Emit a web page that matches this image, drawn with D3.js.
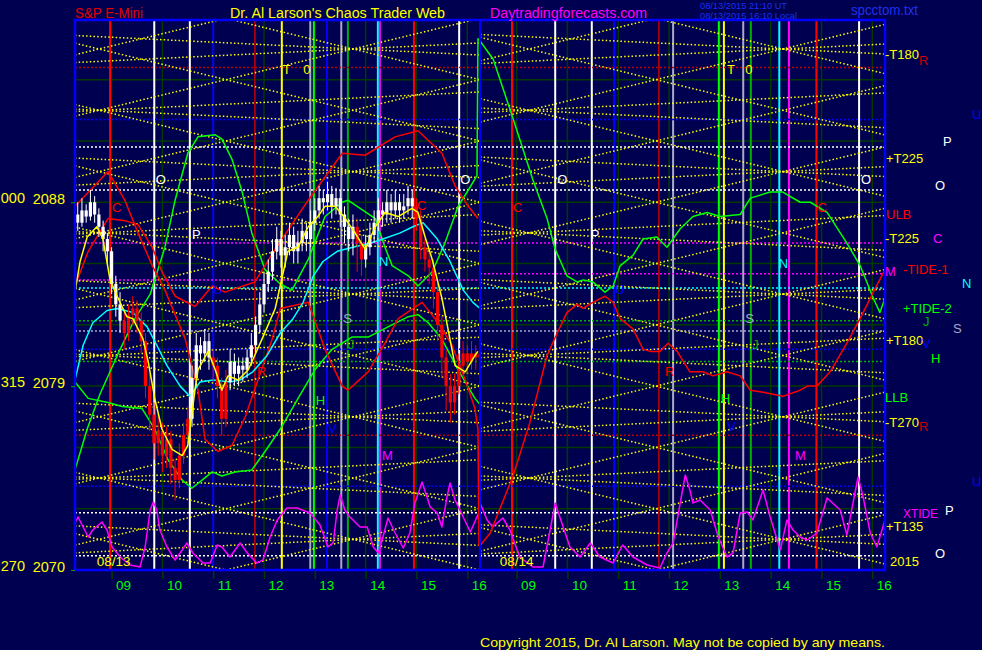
<!DOCTYPE html>
<html><head><meta charset="utf-8">
<script src="https://cdn.jsdelivr.net/npm/d3@7"></script>
<style>
html,body{margin:0;padding:0;background:#000050;}
svg{display:block;font-family:"Liberation Sans",Arial,sans-serif;}
</style></head><body>
<svg id="c" width="982" height="650"></svg>
<script>
// ---------------- DATA ----------------
const HOURS = [9,10,11,12,13,14,15,16];
const PRICE_TICKS = [2070,2079,2088];
const PRICE_CODES = ["270","315","000"];
const GRID_PRICES = [2070,2073,2076,2079,2082,2085,2088,2091,2094,2097];
const DAYS = ["08/13","08/14"];

// horizontal dotted levels: price, kind, panel (0 = both, 1 = left, 2 = right)
const HLINE_PRICES = [2094.6,2092.05,2090.7,2088.6,2086.0,2084.2,2084.5,2083.8,2082.2,2081.7,2080.8,2080.2,2076.6,2074.1,2072.8,2070.7];
const HLINE_KINDS  = ["darkred","blue","white","white","magenta","magenta","magenta","cyan","green","gray","blue","green","darkred","blue","white","white"];
const HLINE_PANEL  = [0,0,0,0,0,1,2,0,0,0,0,0,0,0,0,0];

// vertical time lines per day: [hour, kind]
const VLINES = [
  [[8.97,"red"],[9.84,"white"],[10.54,"white"],[11.0,"blue"],[11.82,"darkred"],[12.35,"yellow"],[12.91,"gray"],[12.98,"lime"],[13.24,"blue"],[13.52,"gray"],[13.65,"green"],[14.24,"cyan"],[14.28,"magenta"],[14.95,"red"],[15.84,"white"]],
  [[8.91,"red"],[9.76,"white"],[10.48,"white"],[10.92,"blue"],[11.80,"darkred"],[12.08,"gray"],[12.98,"lime"],[13.08,"yellow"],[13.46,"gray"],[13.61,"green"],[14.17,"cyan"],[14.36,"magenta"],[14.90,"red"],[15.74,"white"]]
];

// time/price line lattice
const TLINE_LEVELS = [2067,2070,2073,2076,2079,2082,2085,2088,2091,2094,2097,2100];
const TLINE_PIVOT = [11.25, 11.74];
const TLINE_SLOPE = 0.6;
const SHALLOW_LEVELS = [2068.5,2071.5,2074.5,2077.5,2080.5,2083.5,2086.5,2089.5,2092.5,2095.5,2098.5];
const SHALLOW_PIVOTS = [[8.77,13.79],[9.17,14.22]];
const SHALLOW_SLOPE = 0.12;

// 5-minute bars of 08/13 starting 08:20
const BAR_START = 8.3333;
const BAR_OPEN0 = 2087.4;
const CLOSE = [2087.0,2087.6,2087.3,2088.0,2087.4,2086.8,2086.2,2085.6,2084.0,2083.0,
2082.2,2081.6,2082.5,2082.8,2082.2,2081.2,2079.0,2077.6,2076.2,2076.8,
2075.6,2076.4,2075.0,2074.4,2075.6,2076.6,2077.4,2079.4,2081.0,2080.6,
2081.2,2080.4,2080.0,2079.0,2077.4,2079.2,2080.2,2079.6,2080.0,2079.8,
2080.4,2081.0,2082.0,2083.0,2084.0,2084.6,2085.6,2086.2,2085.4,2085.8,
2086.4,2085.6,2086.0,2086.6,2086.2,2087.0,2087.6,2088.2,2088.0,2088.4,
2087.8,2088.2,2087.4,2086.8,2086.2,2086.8,2086.0,2085.2,2085.8,2086.4,
2087.0,2087.6,2087.4,2088.0,2087.6,2088.0,2087.6,2087.8,2088.2,2087.8,
2087.2,2085.8,2085.2,2084.8,2083.6,2082.0,2080.4,2079.0,2078.2,2079.0,
2080.0,2080.6,2080.2,2080.6,2080.4,2080.6];
const HIGH = [2088.0,2088.2,2087.9,2088.6,2088.3,2087.7,2087.1,2086.5,2085.8,2084.4,
2083.6,2082.6,2083.0,2083.4,2083.2,2082.6,2081.6,2079.6,2078.2,2077.6,
2077.2,2077.0,2076.8,2075.4,2076.2,2077.2,2078.0,2080.0,2081.6,2081.4,
2081.8,2081.6,2080.8,2080.4,2079.4,2079.8,2080.8,2080.6,2080.4,2080.4,
2080.8,2081.6,2082.4,2083.6,2084.6,2085.2,2086.2,2086.8,2086.6,2086.4,
2087.0,2086.8,2086.6,2087.2,2087.0,2087.6,2088.2,2088.8,2088.6,2089.0,
2088.8,2088.7,2088.6,2087.8,2087.2,2087.4,2087.2,2086.4,2086.4,2087.0,
2087.6,2088.2,2088.0,2088.6,2088.4,2088.6,2088.4,2088.4,2088.8,2088.6,
2088.2,2087.6,2086.2,2085.6,2085.2,2084.0,2082.4,2080.8,2079.6,2079.6,
2080.6,2081.2,2081.0,2081.2,2081.0,2081.2];
const LOW = [2086.6,2086.8,2087.0,2087.1,2087.0,2086.3,2085.6,2085.0,2083.5,2082.4,
2081.6,2080.8,2081.2,2082.0,2081.6,2080.6,2078.4,2076.8,2075.4,2075.6,
2074.8,2075.0,2074.2,2073.4,2074.0,2075.2,2076.2,2077.0,2079.0,2079.8,
2080.2,2079.8,2079.2,2078.4,2076.6,2077.0,2078.8,2079.0,2079.0,2079.2,
2079.4,2080.0,2080.6,2081.6,2082.6,2083.6,2084.2,2085.2,2084.8,2084.8,
2085.4,2085.0,2085.0,2085.6,2085.6,2085.8,2086.6,2087.2,2087.4,2087.6,
2087.2,2087.4,2086.8,2086.0,2085.6,2085.4,2084.6,2084.4,2084.8,2085.4,
2086.0,2086.6,2086.8,2087.0,2087.0,2087.2,2087.0,2087.2,2087.4,2087.2,
2086.6,2085.2,2084.6,2084.0,2082.8,2081.2,2079.4,2077.8,2077.2,2077.6,
2078.6,2079.8,2079.6,2079.8,2079.8,2080.0];
const RED_BAR_RANGES = [[11,26],[32,35],[66,67],[80,95]];

// curves [hour, price]
const RED_A_13 = [[8.28,2087.8],[8.93,2089.5],[9.26,2088.1],[9.52,2086.5],[9.80,2084.9],[10.05,2083.7],[10.45,2081.3],[10.70,2078.8],[10.84,2076.4],[11.09,2075.8],[11.37,2076.1],[11.63,2077.5],[11.88,2079.3],[12.16,2081.3],[12.32,2082.8],[12.87,2083.1],[13.20,2080.8],[13.54,2079.0],[13.65,2078.8],[14.05,2079.7],[14.38,2081.1],[14.64,2082.3],[15.11,2083.1],[15.43,2082.1],[15.70,2081.0],[15.96,2079.3],[16.15,2077.9],[16.21,2076.9],[16.23,2071.2],[16.25,2071.2]];
const RED_A_14 = [[8.28,2071.2],[8.48,2071.8],[8.93,2074.6],[9.26,2077.2],[9.60,2080.5],[9.80,2081.6],[9.99,2082.6],[10.19,2083.0],[10.31,2082.8],[10.50,2083.1],[10.74,2083.4],[10.90,2083.1],[11.04,2082.3],[11.29,2081.8],[11.49,2080.8],[11.63,2080.7],[11.82,2080.7],[11.98,2081.1],[12.16,2080.7],[12.41,2079.7],[12.67,2079.7],[12.87,2079.5],[13.14,2079.7],[13.40,2079.5],[13.60,2078.8],[13.85,2078.7],[14.24,2078.5],[14.58,2078.8],[14.72,2079.0],[14.91,2079.0],[15.17,2079.7],[15.50,2081.1],[15.76,2082.3],[16.02,2083.6],[16.25,2084.7]];
const RED_B_13 = [[8.28,2083.9],[8.54,2085.6],[8.93,2087.2],[9.26,2087.1],[9.52,2086.9],[9.80,2085.8],[9.99,2084.6],[10.25,2083.4],[10.64,2082.9],[10.98,2083.9],[11.23,2083.6],[11.82,2084.1],[12.22,2085.7],[12.87,2088.1],[13.54,2090.4],[13.99,2090.3],[14.58,2091.2],[15.03,2091.5],[15.50,2090.4],[15.76,2088.8],[16.02,2087.8],[16.21,2087.2]];
const GREEN_A_13 = [[8.28,2074.9],[8.52,2076.9],[8.77,2078.6],[9.13,2080.6],[9.46,2082.3],[9.76,2083.5],[10.05,2085.8],[10.25,2088.1],[10.50,2090.4],[10.70,2091.2],[11.04,2091.3],[11.17,2091.1],[11.37,2090.1],[11.57,2088.5],[11.76,2086.5],[12.02,2084.7],[12.32,2084.0],[12.55,2083.7],[12.87,2085.2],[13.20,2087.3],[13.54,2088.0],[13.65,2088.1],[14.19,2087.2],[14.38,2085.8],[14.52,2084.9],[14.84,2084.4],[15.03,2083.9],[15.31,2084.6],[15.56,2086.0],[15.82,2087.8],[16.02,2088.6],[16.19,2089.3],[16.21,2096.0],[16.25,2095.9]];
const GREEN_A_14 = [[8.28,2095.9],[8.54,2095.0],[8.93,2092.1],[9.32,2089.1],[9.60,2087.2],[9.76,2085.7],[9.99,2084.4],[10.19,2084.1],[10.31,2084.2],[10.50,2084.1],[10.74,2083.6],[10.90,2083.9],[11.04,2084.9],[11.29,2085.4],[11.49,2086.2],[11.76,2086.3],[11.96,2085.8],[12.22,2086.7],[12.47,2087.3],[12.75,2087.5],[13.00,2087.3],[13.40,2087.4],[13.60,2088.2],[13.99,2088.5],[14.24,2088.5],[14.58,2088.0],[14.78,2088.0],[15.11,2087.5],[15.50,2086.0],[15.76,2084.9],[16.02,2083.3],[16.15,2082.6],[16.25,2083.3]];
const GREEN_B_13 = [[8.28,2079.2],[8.54,2078.4],[8.93,2078.2],[9.21,2078.0],[9.60,2077.9],[9.85,2076.9],[10.11,2075.4],[10.39,2074.4],[10.58,2074.0],[10.78,2074.4],[10.98,2074.8],[11.17,2074.6],[11.43,2074.8],[11.76,2074.9],[12.02,2075.8],[12.32,2076.9],[12.67,2078.4],[13.00,2079.8],[13.34,2080.8],[13.73,2081.4],[14.05,2081.4],[14.44,2081.9],[14.84,2082.4],[15.03,2082.5],[15.23,2082.1],[15.50,2081.3],[15.82,2079.8],[16.15,2078.4],[16.25,2078.1]];
const CYAN_13 = [[8.28,2079.3],[8.44,2081.0],[8.63,2082.1],[8.91,2082.7],[9.11,2082.8],[9.42,2082.6],[9.70,2081.9],[9.89,2081.0],[10.09,2080.0],[10.35,2079.0],[10.54,2078.5],[10.74,2079.2],[11.00,2079.3],[11.33,2079.2],[11.53,2079.3],[11.78,2079.7],[12.06,2080.5],[12.32,2081.6],[12.57,2082.3],[12.77,2083.1],[12.97,2084.4],[13.16,2085.1],[13.44,2085.6],[13.75,2085.8],[14.09,2086.0],[14.34,2086.2],[14.68,2086.5],[14.93,2086.8],[15.13,2087.0],[15.41,2086.2],[15.66,2085.1],[15.92,2083.7],[16.11,2083.1],[16.25,2082.8]];
const YELLOW_13 = [[8.28,2083.6],[8.38,2085.1],[8.52,2086.3],[8.71,2086.8],[8.83,2086.2],[8.97,2084.2],[9.11,2083.4],[9.30,2082.4],[9.42,2082.3],[9.62,2081.3],[9.72,2080.2],[9.85,2078.4],[9.99,2076.9],[10.19,2075.9],[10.39,2075.6],[10.50,2076.1],[10.64,2078.8],[10.70,2079.8],[10.90,2080.7],[11.04,2079.8],[11.17,2078.8],[11.29,2079.5],[11.49,2079.3],[11.69,2079.8],[11.96,2081.3],[12.22,2082.8],[12.47,2085.6],[12.67,2085.8],[12.87,2086.8],[13.06,2087.3],[13.20,2087.8],[13.40,2087.8],[13.60,2087.2],[13.79,2086.5],[13.99,2085.7],[14.19,2086.8],[14.38,2087.5],[14.64,2087.3],[14.91,2087.7],[15.03,2087.5],[15.17,2086.3],[15.31,2085.2],[15.50,2083.3],[15.62,2081.8],[15.76,2080.0],[15.96,2079.7],[16.15,2080.5],[16.21,2080.7]];
// oscillator (0..100)
const TIDE_13 = [[8.28,47],[8.34,53],[8.44,43],[8.54,33],[8.63,40],[8.81,48],[8.91,40],[9.01,23],[9.17,13],[9.36,5],[9.56,3],[9.66,23],[9.76,60],[9.82,68],[9.89,60],[9.95,40],[10.09,23],[10.25,10],[10.39,20],[10.48,27],[10.60,17],[10.80,7],[10.94,7],[11.08,25],[11.17,23],[11.33,13],[11.53,27],[11.67,17],[11.86,7],[11.98,10],[12.12,33],[12.26,50],[12.45,62],[12.65,62],[12.91,57],[13.10,45],[13.26,23],[13.36,27],[13.44,60],[13.50,75],[13.59,60],[13.69,53],[13.89,43],[14.03,43],[14.15,23],[14.25,17],[14.34,33],[14.44,52],[14.58,37],[14.74,22],[14.87,37],[14.97,67],[15.11,88],[15.27,63],[15.41,57],[15.50,43],[15.60,73],[15.66,87],[15.76,70],[15.92,53],[16.06,38],[16.19,53],[16.25,60]];
const TIDE_14 = [[8.28,67],[8.42,50],[8.53,43],[8.73,52],[8.87,40],[9.06,13],[9.32,3],[9.52,3],[9.66,40],[9.76,67],[9.85,53],[10.05,23],[10.25,13],[10.45,27],[10.64,13],[10.90,7],[11.09,25],[11.29,13],[11.57,5],[11.82,2],[11.96,17],[12.08,27],[12.22,67],[12.32,95],[12.41,80],[12.47,67],[12.61,70],[12.81,60],[12.97,33],[13.14,13],[13.26,17],[13.40,57],[13.54,58],[13.65,50],[13.85,80],[13.99,53],[14.19,20],[14.32,50],[14.44,40],[14.58,33],[14.72,30],[14.91,37],[15.11,72],[15.37,60],[15.50,35],[15.62,67],[15.72,93],[15.82,73],[15.96,37],[16.09,23],[16.25,50]];

// letters inside the panels: text, day, hour, price, kind
const LETTERS = [
  ["T",0,12.37,2094.3,"yellow"],["0",0,12.77,2094.3,"yellow"],["O",0,9.87,2088.9,"white"],["O",0,15.86,2088.9,"white"],
  ["C",0,9.01,2087.5,"red"],["C",0,15.01,2087.6,"red"],["P",0,10.58,2086.2,"white"],["U",0,11.0,2083.5,"blue"],
  ["N",0,14.26,2084.9,"cyan"],["S",0,13.56,2082.1,"gray"],["J",0,13.65,2080.8,"green"],["R",0,11.86,2079.5,"red"],
  ["H",0,13.02,2078.1,"lime"],["V",0,13.26,2076.7,"blue"],["M",0,14.32,2075.4,"magenta"],
  ["T",1,13.14,2094.3,"yellow"],["0",1,13.50,2094.3,"yellow"],["O",1,9.80,2088.9,"white"],["O",1,15.78,2088.9,"white"],
  ["C",1,8.93,2087.5,"red"],["C",1,14.92,2087.5,"red"],["P",1,10.46,2086.2,"white"],["U",1,10.94,2083.5,"blue"],
  ["N",1,14.16,2084.8,"cyan"],["S",1,13.50,2082.1,"gray"],["J",1,13.64,2080.8,"green"],["R",1,11.92,2079.5,"red"],
  ["H",1,13.02,2078.15,"lime"],["V",1,13.14,2076.8,"blue"],["M",1,14.48,2075.4,"magenta"]
];
const DAY_LABEL_POS = [[8.71,2070.2],[8.67,2070.2]];

// labels right of the chart
const RIGHT_LABELS = ["-T180","R","U","P","+T225","O","ULB","-T225","C","M","-TIDE-1","N","+TIDE-2","J","S","+T180","V","H","LLB","-T270","R","U","P","XTIDE","+T135","O","2015"];
const RIGHT_LABEL_PRICES = [2095.0,2094.7,2092.06,2090.74,2089.9,2088.6,2087.2,2086.0,2086.0,2084.4,2084.5,2083.8,2082.6,2081.95,2081.6,2081.0,2080.85,2080.15,2078.2,2077.0,2076.8,2074.1,2072.7,2072.55,2071.9,2070.6,2070.2];
const RIGHT_LABEL_KINDS = ["yellow","rlabel","blue","white","yellow","white","red","yellow","magenta","magenta","red","cyan","lime","green","gray","yellow","blue","lime","lime","yellow","rlabel","blue","white","magenta","yellow","white","yellow"];

// ---------------- LAYOUT / STYLE ----------------
const COLORS = {red:"#FF0000",darkred:"#C00000",rlabel:"#C80000",white:"#FFFFFF",blue:"#0000FF",yellow:"#FFFF00",
  gray:"#A8A8C8",lime:"#00FF00",green:"#00B000",cyan:"#00FFFF",magenta:"#FF00FF"};
const RIGHT_LABEL_DX = [0,34,87,58,1,50,1,0,48,0,18,77,18,38,68,1,37,46,0,0,34,87,60,18,1,50,5];
const RIGHT_LABEL_LEN = {"XTIDE":35};
const BG = "#000050", GRID = "#003a00";
const TOP = 20, BOTTOM = 570;
const PANEL_X = [[75,480],[480,885]];
const T_DOMAIN = [8.28,16.25];

const svg = d3.select("#c");
const xs = PANEL_X.map(r => d3.scaleLinear().domain(T_DOMAIN).range(r));
const y = d3.scaleLinear().domain([2070,2096.92]).range([BOTTOM,TOP]);
const yo = d3.scaleLinear().domain([0,100]).range([BOTTOM,BOTTOM-100]);

svg.append("rect").attr("width",982).attr("height",650).attr("fill",BG);
const defs = svg.append("defs");
PANEL_X.forEach((r,i)=>defs.append("clipPath").attr("id","clip"+i).append("rect")
  .attr("x",r[0]).attr("y",TOP).attr("width",r[1]-r[0]).attr("height",BOTTOM-TOP));

const panels = PANEL_X.map((r,i)=>svg.append("g").attr("clip-path",`url(#clip${i})`));

panels.forEach((g,i)=>{
  const x = xs[i];
  g.selectAll(".hg").data(GRID_PRICES).join("line")
    .attr("x1",PANEL_X[i][0]).attr("x2",PANEL_X[i][1]).attr("y1",d=>y(d)).attr("y2",d=>y(d))
    .attr("stroke",GRID).attr("stroke-width",1.5);
  g.selectAll(".vg").data(HOURS).join("line")
    .attr("x1",d=>x(d)).attr("x2",d=>x(d)).attr("y1",TOP).attr("y2",BOTTOM)
    .attr("stroke",GRID).attr("stroke-width",1.5);

  g.selectAll(".vl").data(VLINES[i]).join("line")
    .attr("x1",d=>x(d[0])).attr("x2",d=>x(d[0])).attr("y1",TOP).attr("y2",BOTTOM)
    .attr("stroke",d=>COLORS[d[1]]).attr("stroke-width",d=>d[1]==="darkred"?1.5:2);

  const hl = HLINE_PRICES.map((p,k)=>({p, kind:HLINE_KINDS[k], pan:HLINE_PANEL[k]}))
    .filter(d=>d.pan===0 || d.pan===i+1);
  g.selectAll(".hl").data(hl).join("line")
    .attr("x1",PANEL_X[i][0]).attr("x2",PANEL_X[i][1]).attr("y1",d=>y(d.p)).attr("y2",d=>y(d.p))
    .attr("stroke",d=>COLORS[d.kind]).attr("stroke-width",1.5).attr("stroke-dasharray","2,2");

  const segs = [];
  TLINE_LEVELS.forEach(L=>[1,-1].forEach(s=>{
    segs.push(T_DOMAIN.map(t=>[t, L + s*TLINE_SLOPE*(t-TLINE_PIVOT[i])]));
  }));
  SHALLOW_LEVELS.forEach((L,k)=>[1,-1].forEach(s=>{
    const pv = SHALLOW_PIVOTS[i][k%2];
    segs.push(T_DOMAIN.map(t=>[t, L + s*SHALLOW_SLOPE*(t-pv)]));
  }));
  const ln = d3.line().x(d=>x(d[0])).y(d=>y(d[1]));
  g.selectAll(".yl").data(segs).join("path").attr("d",ln)
    .attr("fill","none").attr("stroke","#FFFF00").attr("stroke-width",1.5).attr("stroke-dasharray","1.5,2.2");
});

const lineP = i => d3.line().x(d=>xs[i](d[0])).y(d=>y(d[1]));
const lineO = i => d3.line().x(d=>xs[i](d[0])).y(d=>yo(d[1]));
function curve(i, data, color, gen){
  panels[i].append("path").datum(data).attr("d",(gen||lineP)(i))
    .attr("fill","none").attr("stroke",color).attr("stroke-width",1.5).attr("stroke-linejoin","round");
}
curve(0, TIDE_13, COLORS.magenta, lineO);
curve(1, TIDE_14, COLORS.magenta, lineO);
curve(0, GREEN_B_13, COLORS.lime);
curve(0, GREEN_A_13, COLORS.lime);
curve(1, GREEN_A_14, COLORS.lime);
curve(0, RED_B_13, COLORS.red);
curve(0, RED_A_13, COLORS.red);
curve(1, RED_A_14, COLORS.red);
curve(0, CYAN_13, COLORS.cyan);

const bars = CLOSE.map((c,k)=>{
  const o = k===0 ? BAR_OPEN0 : CLOSE[k-1];
  const red = RED_BAR_RANGES.some(r=>k>=r[0]&&k<=r[1]);
  return {t: BAR_START + k/12, o, c, h: HIGH[k], l: LOW[k], red};
});
const cg = panels[0].append("g");
cg.selectAll(".wk").data(bars).join("line")
  .attr("x1",d=>xs[0](d.t)).attr("x2",d=>xs[0](d.t)).attr("y1",d=>y(d.h)).attr("y2",d=>y(d.l))
  .attr("stroke",d=>d.red?"#FF0000":"#FFFFFF").attr("stroke-width",1);
cg.selectAll(".bd").data(bars).join("rect")
  .attr("x",d=>xs[0](d.t)-1.6).attr("width",3.2)
  .attr("y",d=>y(Math.max(d.o,d.c))).attr("height",d=>Math.max(1.5,Math.abs(y(d.o)-y(d.c))))
  .attr("fill",d=>d.red?"#FF0000":"#FFFFFF");
curve(0, YELLOW_13, COLORS.yellow);

LETTERS.forEach(([txt,day,t,p,kind])=>{
  panels[day].append("text").attr("x",xs[day](t)).attr("y",y(p)).text(txt)
    .attr("fill",COLORS[kind]).attr("font-size",13);
});
DAYS.forEach((d,i)=>{
  panels[i].append("text").attr("x",xs[i](DAY_LABEL_POS[i][0])).attr("y",y(DAY_LABEL_POS[i][1]))
    .text(d).attr("fill","#FFFF00").attr("font-size",13.5);
});

svg.append("rect").attr("x",75).attr("y",TOP).attr("width",810).attr("height",BOTTOM-TOP)
  .attr("fill","none").attr("stroke","#0000FF").attr("stroke-width",2.5);
svg.append("line").attr("x1",480).attr("x2",480).attr("y1",TOP).attr("y2",BOTTOM)
  .attr("stroke","#0000FF").attr("stroke-width",2);

xs.forEach((x,i)=>{
  const ax = svg.append("g").attr("transform",`translate(0,${BOTTOM+1})`)
    .call(d3.axisBottom(x).tickValues(HOURS).tickSize(8).tickFormat(d=>String(d).padStart(2,"0")));
  ax.select(".domain").remove();
  ax.selectAll(".tick line").attr("stroke",GRID).attr("stroke-width",1.5);
  ax.selectAll(".tick text").attr("fill","#00FF00").attr("font-size",13.5)
    .attr("font-family","Liberation Sans, Arial, sans-serif")
    .attr("text-anchor","start").attr("x",4).attr("y",19).attr("dy",0);
});
const ay = svg.append("g").attr("transform","translate(75,0)")
  .call(d3.axisLeft(y).tickValues(PRICE_TICKS).tickSize(4).tickPadding(6).tickFormat(d3.format("d")));
ay.select(".domain").remove();
ay.selectAll(".tick line").attr("stroke","#00A000");
ay.selectAll(".tick text").attr("fill","#FFFF00").attr("font-size",14.5)
  .attr("font-family","Liberation Sans, Arial, sans-serif").attr("dy","0.08em");
svg.selectAll(".code").data(PRICE_TICKS).join("text")
  .attr("x",25).attr("y",d=>y(d)+1).attr("text-anchor","end").text((d,k)=>PRICE_CODES[k])
  .attr("fill","#FFFF00").attr("font-size",14.5);

RIGHT_LABELS.forEach((txt,k)=>{
  const t = svg.append("text").attr("x",885+RIGHT_LABEL_DX[k]).attr("y",y(RIGHT_LABEL_PRICES[k]))
    .text(txt).attr("fill",COLORS[RIGHT_LABEL_KINDS[k]]).attr("font-size",13);
  if (RIGHT_LABEL_LEN[txt]) t.attr("textLength",RIGHT_LABEL_LEN[txt]).attr("lengthAdjust","spacingAndGlyphs");
});

function txt(s,x,yy,color,size,len){
  const t = svg.append("text").attr("x",x).attr("y",yy).text(s).attr("fill",color).attr("font-size",size);
  if(len) t.attr("textLength",len).attr("lengthAdjust","spacingAndGlyphs");
  return t;
}
txt("S&P E-Mini",75,18,"#E00000",14,68);
txt("Dr. Al Larson's Chaos Trader Web",230,18,"#FFFF00",14,215);
txt("Daytradingforecasts.com",490,18,"#FF00FF",14,157);
txt("08/13/2015 21:10 UT",700,8.5,"#1830F0",9.5,87);
txt("08/13/2015 16:10 Local",700,19,"#1830F0",9.5,97);
txt("spcctom.txt",851,15,"#2030E8",14,67);
txt("Copyright 2015, Dr. Al Larson. May not be copied by any means.",480,647,"#FFFF00",13.5,405);
</script>
</body></html>
